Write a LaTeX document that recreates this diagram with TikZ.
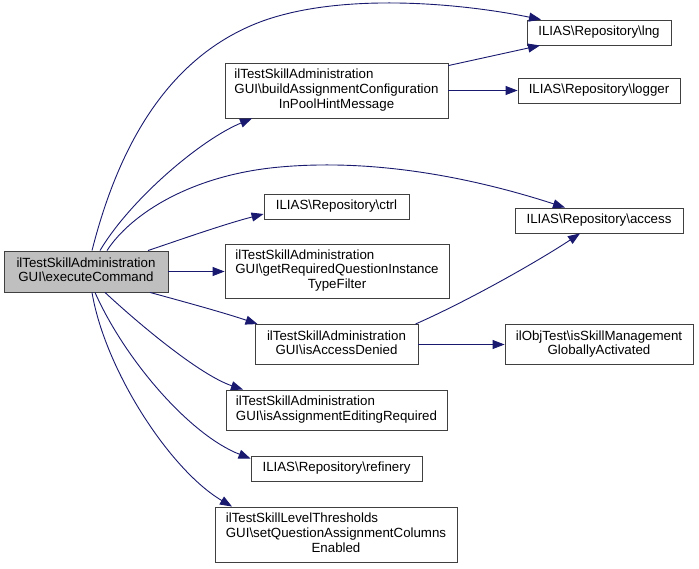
\documentclass[tikz,border=0pt]{standalone}
\usepackage{fontspec}
\setmainfont{Liberation Sans}
\usetikzlibrary{arrows.meta}
\newcommand{\bs}{\textbackslash}
\newcommand{\cl}[1]{\multicolumn{1}{@{}c@{}}{#1}}
\definecolor{edgeblue}{HTML}{191970}
\begin{document}
\begin{tikzpicture}[x=1pt,y=-1pt,
  box/.style={draw=black!75,line width=0.9pt,rectangle,inner sep=0pt,align=center,
    font=\fontsize{13.3}{14.6}\selectfont},
  mainbox/.style={box,fill=black!25},
  edge/.style={draw=edgeblue,line width=0.9pt,-{Triangle[length=12pt,width=9pt]},fill=none}]
\useasboundingbox (0,0) rectangle (699,568);
\fill[white] (0,0) rectangle (699,568);
\node[mainbox,minimum width=164pt,minimum height=41pt] (main) at (86,271.5)
  {\begin{tabular}{@{}l@{}}ilTestSkillAdministration\\\cl{GUI\bs executeCommand}\end{tabular}};
\node[box,minimum width=223pt,minimum height=55pt] (build) at (336.5,90.5)
  {\begin{tabular}{@{}l@{}}ilTestSkillAdministration\\GUI\bs buildAssignmentConfiguration\\\cl{InPoolHintMessage}\end{tabular}};
\node[box,minimum width=144pt,minimum height=25pt] (lng) at (599,32.5) {ILIAS\bs Repository\bs lng};
\node[box,minimum width=162pt,minimum height=25pt] (logger) at (599,90.5) {ILIAS\bs Repository\bs logger};
\node[box,minimum width=145pt,minimum height=25pt] (ctrl) at (336.5,206.5) {ILIAS\bs Repository\bs ctrl};
\node[box,minimum width=224pt,minimum height=54pt] (getreq) at (337,271)
  {\begin{tabular}{@{}l@{}}ilTestSkillAdministration\\GUI\bs getRequiredQuestionInstance\\\cl{TypeFilter}\end{tabular}};
\node[box,minimum width=168pt,minimum height=25pt] (access) at (599,220.5) {ILIAS\bs Repository\bs access};
\node[box,minimum width=163pt,minimum height=40pt] (denied) at (336.5,344.5)
  {\begin{tabular}{@{}l@{}}ilTestSkillAdministration\\\cl{GUI\bs isAccessDenied}\end{tabular}};
\node[box,minimum width=188pt,minimum height=40pt] (skill) at (599,344.5)
  {\begin{tabular}{@{}l@{}}ilObjTest\bs isSkillManagement\\\cl{GloballyActivated}\end{tabular}};
\node[box,minimum width=221pt,minimum height=40pt] (editing) at (336.5,410)
  {\begin{tabular}{@{}l@{}}ilTestSkillAdministration\\\cl{GUI\bs isAssignmentEditingRequired}\end{tabular}};
\node[box,minimum width=171pt,minimum height=25pt] (refinery) at (336.5,468.5) {ILIAS\bs Repository\bs refinery};
\node[box,minimum width=242pt,minimum height=55pt] (setq) at (336,534.5)
  {\begin{tabular}{@{}l@{}}ilTestSkillLevelThresholds\\GUI\bs setQuestionAssignmentColumns\\\cl{Enabled}\end{tabular}};
% edges from main
\draw[edge] ([xshift=6pt]main.north) .. controls (115,160) and (160,60) .. (260,22)
  .. controls (340,-8) and (460,3) .. ([xshift=-58pt]lng.north);
\draw[edge] ([xshift=14pt]main.north) .. controls (130,200) and (200,140) .. ([xshift=-84.5pt]build.south);
\draw[edge] ([xshift=21pt]main.north) .. controls (130,215) and (190,175) .. (280,167)
  .. controls (380,158) and (480,180) .. ([xshift=-34pt]access.north);
\draw[edge] ([xshift=62pt]main.north) .. controls (185,238) and (225,224) .. ([yshift=-7.5pt]ctrl.west);
\draw[edge] (main.east) -- (main.east -| getreq.west);
\draw[edge] ([xshift=64pt]main.south) .. controls (185,302) and (225,313) .. ([xshift=3pt]denied.north west);
\draw[edge] ([xshift=19pt]main.south) .. controls (140,325) and (200,375) .. ([xshift=-93.5pt]editing.north);
\draw[edge] ([xshift=9pt]main.south) .. controls (125,360) and (190,435) .. ([yshift=-3pt]refinery.north west);
\draw[edge] ([xshift=6pt]main.south) .. controls (105,370) and (170,470) .. ([xshift=-104pt]setq.north);
% other edges
\draw[edge] ([yshift=-3pt]build.north east) -- ([xshift=-59pt]lng.south);
\draw[edge] (build.east) -- (logger.west);
\draw[edge] ([xshift=-3pt]denied.north east) .. controls (470,300) and (540,260) .. ([xshift=-19pt]access.south);
\draw[edge] (denied.east) -- (skill.west);
\end{tikzpicture}
\end{document}
